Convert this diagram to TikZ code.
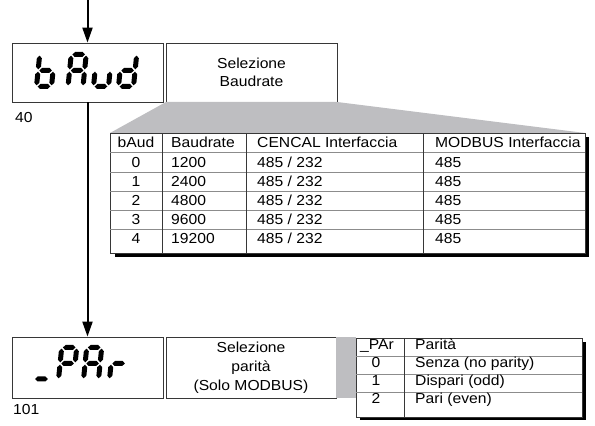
\documentclass[tikz,border=0pt]{standalone}
\usepackage{fontspec}
\setmainfont[FakeStretch=1.08]{Liberation Sans}
\usetikzlibrary{arrows.meta}

\definecolor{fan}{RGB}{190,190,193}
\definecolor{frame}{RGB}{55,55,55}
\definecolor{rule}{RGB}{140,140,140}

% seven segment display
\def\segW{15}\def\segH{32}\def\segT{2.5}\def\segG{1.2}
\newcommand{\lcdh}[3]{\fill ({#1+\segG},#3) -- ++(\segT,\segT) -- ({#2-\segG-\segT},{#3+\segT}) -- ({#2-\segG},#3) -- ({#2-\segG-\segT},{#3-\segT}) -- ({#1+\segG+\segT},{#3-\segT}) -- cycle;}
\newcommand{\lcdv}[3]{\fill (#1,{#2+\segG}) -- ++(\segT,\segT) -- ({#1+\segT},{#3-\segG-\segT}) -- (#1,{#3-\segG}) -- ({#1-\segT},{#3-\segG-\segT}) -- ({#1-\segT},{#2+\segG+\segT}) -- cycle;}
\newcommand{\lcdsega}{\lcdh{0}{\segW}{\segH}}
\newcommand{\lcdsegb}{\lcdv{\segW}{\segH/2}{\segH}}
\newcommand{\lcdsegc}{\lcdv{\segW}{0}{\segH/2}}
\newcommand{\lcdsegd}{\lcdh{0}{\segW}{0}}
\newcommand{\lcdsege}{\lcdv{0}{0}{\segH/2}}
\newcommand{\lcdsegf}{\lcdv{0}{\segH/2}{\segH}}
\newcommand{\lcdsegg}{\lcdh{0}{\segW}{\segH/2}}
\newcommand{\lcdchar}[3]{\begin{scope}[shift={(#1,#2)}, xslant=0.1]
  \foreach \s in {#3} {\csname lcdseg\s\endcsname}
\end{scope}}

\tikzset{
  txt/.style={font=\fontsize{14.5}{18}\selectfont, text=black},
  lcdbox/.style={draw=frame, line width=0.8pt, minimum width=151pt, minimum height=59pt, inner sep=0pt},
  descbox/.style={draw=frame, line width=0.8pt, minimum width=171pt, minimum height=59pt, inner sep=0pt, align=center, txt},
  flow/.style={line width=2pt, -{Triangle[length=15pt, width=10pt]}},
  cell/.style={txt, anchor=base west, inner sep=0pt},
  ccell/.style={txt, anchor=base, inner sep=0pt},
}

\begin{document}
\begin{tikzpicture}[x=1pt, y=1pt]
\useasboundingbox (0,0) rectangle (595,426);

% baudrate
\node[lcdbox] (baud) at (87.5,353.5) {};
\node[descbox] (baudtxt) at (251.5,353.5) {Selezione\\Baudrate};
\node[cell] (n40) at (15,303) {40};
\lcdchar{36.5}{339.5}{f,e,g,c,d}
\lcdchar{68}{339.5}{a,b,c,e,f,g}
\lcdchar{93.5}{339.5}{c,d,e}
\lcdchar{118.5}{339.5}{b,c,d,e,g}

% zoom of the baudrate table
\fill[fan] (166,324) -- (337,324) -- (585,293) -- (110,293) -- cycle;
\fill[black] (115,169) rectangle (589,289);
\filldraw[fill=white, draw=frame, line width=0.8pt] (110,173) rectangle (585,293);
\foreach \y in {274,254,235,216,197}
  \draw[rule, line width=0.8pt] (110,\y) -- (585,\y);
\foreach \x in {162,246,423}
  \draw[frame, line width=0.8pt] (\x,173) -- (\x,293);
\node[ccell] (hb) at (136,278) {bAud};
\node[cell] (hr) at (171,278) {Baudrate};
\node[cell] (hc) at (257,278) {CENCAL Interfaccia};
\node[cell] (hm) at (435,278) {MODBUS Interfaccia};
\foreach \v/\b [count=\i from 0] in {0/1200,1/2400,2/4800,3/9600,4/19200} {
  \node[ccell] (v\i) at (136,258-19*\i) {\v};
  \node[cell] (b\i) at (171,258-19*\i) {\b};
  \node[cell] (c\i) at (257,258-19*\i) {485 / 232};
  \node[cell] (m\i) at (435,258-19*\i) {485};
}

% parity
\node[lcdbox, minimum height=61pt] (par) at (87.5,58.5) {};
\node[descbox, minimum width=170pt, minimum height=61pt, font=\fontsize{14.5}{19}\selectfont] (partxt) at (251,58.5) {Selezione\\parità\\(Solo MODBUS)};
\node[cell] (n101) at (13,11) {101};
\lcdh{34}{49}{47}
\lcdchar{58.5}{46.5}{a,b,e,f,g}
\lcdchar{83.5}{46.5}{a,b,c,e,f,g}
\lcdchar{109.5}{46.5}{e,g}

% parity table
\fill[fan] (336,28) rectangle (356,89);
\fill[black] (360,6) rectangle (586,84);
\filldraw[fill=white, draw=frame, line width=0.8pt] (356,9) rectangle (582,88);
\foreach \y in {70,52,34}
  \draw[rule, line width=0.8pt] (356,\y) -- (582,\y);
\draw[frame, line width=0.8pt] (404,9) -- (404,88);
\node[ccell] (hp) at (377,76) {\_PAr};
\node[cell] (hq) at (415,76) {Parità};
\foreach \t [count=\i from 0] in {Senza (no parity),Dispari (odd),Pari (even)} {
  \node[ccell] (p\i) at (376,58-18*\i) {\i};
  \node[cell] (q\i) at (415,58-18*\i) {\t};
}

% flow
\coordinate (entry) at (87.5,426);
\draw[flow] (entry) -- (baud);
\draw[flow] (baud) -- (par);
\end{tikzpicture}
\end{document}
